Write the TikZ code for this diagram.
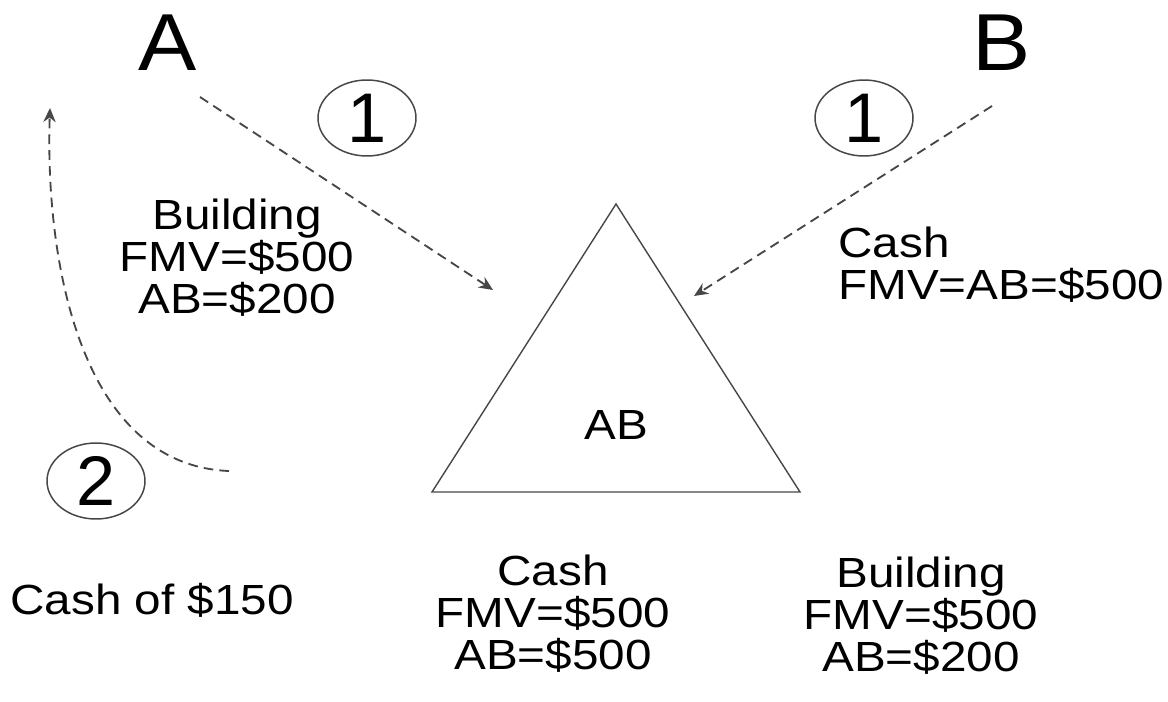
\documentclass[tikz,border=0pt]{standalone}
\usepackage{fontspec}
\setmainfont{Liberation Sans}
\newfontfamily\widesans[FakeStretch=1.13]{Liberation Sans}
\newfontfamily\bigsans[FakeStretch=1.08]{Liberation Sans}
\usetikzlibrary{arrows.meta}
\usetikzlibrary{shapes.geometric}

\begin{document}
\begin{tikzpicture}[x=0.02cm, y=-0.02cm,
  flow/.style={draw=black!72, line width=1.05pt, dash pattern=on 5.5pt off 3.5pt, -{Stealth[length=8pt,width=7pt]}},
  txt/.style={font=\widesans\fontsize{24}{24}\selectfont, align=center, inner sep=0pt},
  party/.style={font=\bigsans\fontsize{46}{50}\selectfont, inner sep=0pt},
  stepnum/.style={draw=black!72, line width=0.85pt, ellipse, minimum width=1.96cm, minimum height=1.52cm, inner sep=0pt, font=\fontsize{40}{44}\selectfont}]
\useasboundingbox (0,0) rectangle (1168,702);

\node[party] (A) at (168,43) {A};
\node[party] (B) at (1002,43) {B};

\node[stepnum] (ONEA) at (367,118) {1};
\node[stepnum] (ONEB) at (864,118) {1};
\node[stepnum] (TWO) at (96,481) {2};

\coordinate (TT) at (616,204); \coordinate (TL) at (432,492); \coordinate (TR) at (800,492);
\draw[draw=black!72, line width=0.8pt] (TT) -- (TR) -- (TL) -- cycle;
\node[txt] (AB) at (616,425) {AB};

\node[txt] (BLDA) at (237,258) {Building\\FMV=\$500\\AB=\$200};
\node[txt, align=left, anchor=west] (CASHB) at (838,265) {Cash\\FMV=AB=\$500};
\node[txt, anchor=west] (CASHBACK) at (10,600) {Cash of \$150};
\node[txt] (CASHAB) at (553,614) {Cash\\FMV=\$500\\AB=\$500};
\node[txt] (BLDAB) at (921,616) {Building\\FMV=\$500\\AB=\$200};

\coordinate (AOUT) at (200,97); \coordinate (AIN) at (493,290);
\coordinate (BOUT) at (992,106); \coordinate (BIN) at (694,296);
\coordinate (COUT) at (229,471); \coordinate (CIN) at (50,108);
\draw[flow] (AOUT) -- (AIN);
\draw[flow] (BOUT) -- (BIN);
\draw[flow] (COUT) .. controls (80,465) and (45,260) .. (CIN);

\end{tikzpicture}
\end{document}
